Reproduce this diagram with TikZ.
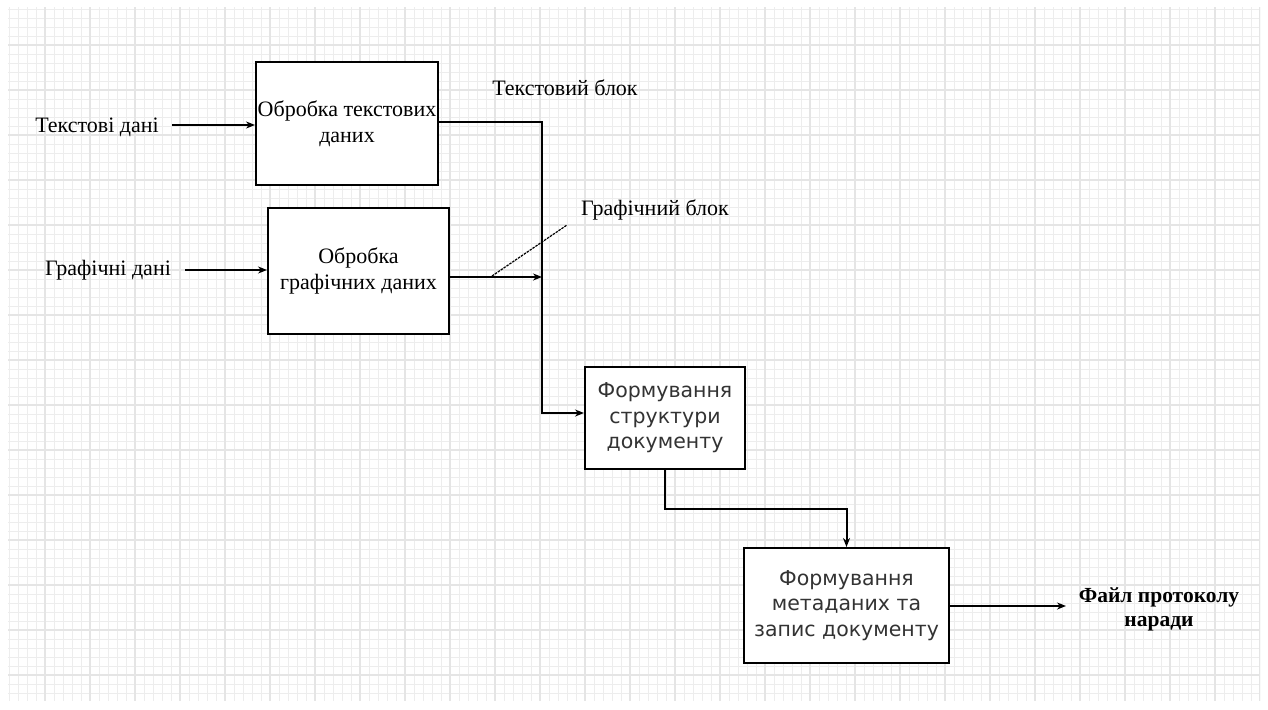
\documentclass[tikz,border=0pt]{standalone}
\usepackage{fontspec}
\setmainfont{Liberation Serif}
\newfontfamily\boxsans{DejaVu Sans}
\usetikzlibrary{arrows.meta}

\tikzset{
  gridminor/.style={draw=black!7, line width=0.9pt},
  gridmajor/.style={draw=black!10, line width=1.5pt},
  procbox/.style={draw=black, line width=2pt, fill=white, inner sep=0pt, align=center},
  serifbox/.style={procbox, font=\fontsize{22}{26}\selectfont},
  sansbox/.style={procbox, text=black!80, font=\boxsans\fontsize{20.5}{25.5}\selectfont},
  lbl/.style={inner sep=0pt, align=center, font=\fontsize{22}{24}\selectfont},
  flow/.style={line width=2pt, -{Stealth[length=9pt,width=7pt]}},
  wire/.style={line width=2pt},
  leader/.style={line width=1.2pt, dash pattern=on 2.5pt off 1pt}
}

\begin{document}
\begin{tikzpicture}[x=1pt, y=-1pt]
  \useasboundingbox (0,0) rectangle (1268,709);
  \fill[white] (0,0) rectangle (1268,709);

  % squared paper background
  \begin{scope}
    \clip (8,8) rectangle (1260,700);
    \draw[gridminor, step=9pt] (0,0) grid (1268,709);
    \draw[gridmajor, step=45pt] (0,0) grid (1268,709);
  \end{scope}

  % processing blocks
  \node[serifbox, minimum width=182pt, minimum height=123pt] (b1) at (347,123.5)
    {\hspace*{-12pt}Обробка текстових\hspace*{-12pt}\\даних};
  \node[serifbox, minimum width=181pt, minimum height=126pt] (b2) at (358.5,271)
    {Обробка\\графічних даних};
  \node[sansbox, minimum width=160pt, minimum height=102pt] (b3) at (665,418)
    {Формування\\структури\\документу};
  \node[sansbox, minimum width=205pt, minimum height=115pt] (b4) at (846.5,605.5)
    {Формування\\метаданих та\\запис документу};

  % external inputs and outputs
  \node[lbl] (tin) at (97,127) {Текстові дані};
  \node[lbl] (gin) at (108,270) {Графічні дані};
  \node[lbl] (tblk) at (565,88) {Текстовий блок};
  \node[lbl] (gblk) at (655,210) {Графічний блок};
  \node[lbl, font=\bfseries\fontsize{21.5}{24}\selectfont] (out) at (1159,609)
    {Файл протоколу\\наради};

  \coordinate (tstart) at (172,125);
  \coordinate (gstart) at (185,270);
  \coordinate (jx) at (542,300);
  \coordinate (jy) at (760,509);
  \coordinate (oend) at (1066,606);
  \coordinate (lead1) at (492,276);
  \coordinate (lead2) at (567,225);

  % connectors
  \draw[flow] (tstart) -- (tstart -| b1.west);
  \draw[flow] (gstart) -- (gstart -| b2.west);
  \draw[flow] ([yshift=1.5pt]b1.east) -| (jx) |- ([yshift=5pt]b3.west);
  \draw[flow] ([yshift=-6pt]b2.east) -- ([yshift=-6pt]b2.east -| jx);
  \draw[flow] (b3.south) |- (jy) -| (b4.north);
  \draw[flow] (b4.east |- oend) -- (oend);

  % leader line for the graphic block label
  \draw[leader] (lead1) -- (lead2);
\end{tikzpicture}
\end{document}
